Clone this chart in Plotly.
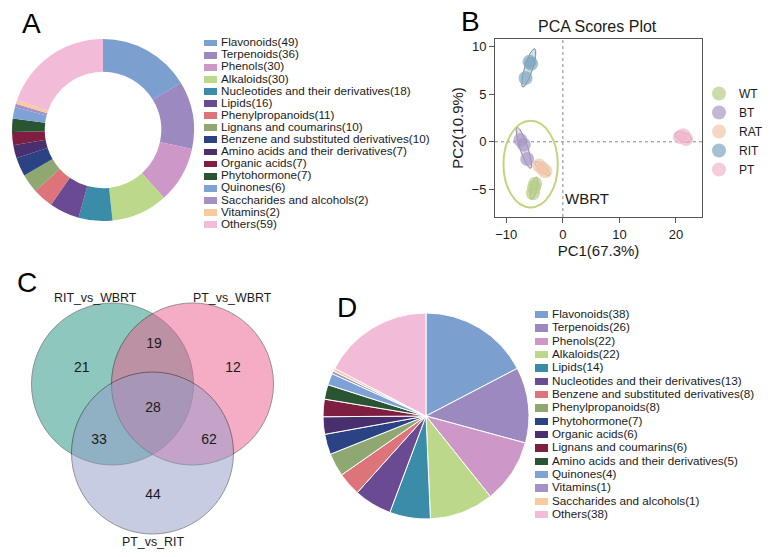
"""
Figura compuesta: clasificacion de metabolitos (A, D), PCA (B) y Venn (C).
"""

import numpy as np
import plotly.graph_objects as go

FUENTE = "Arial, Liberation Sans, sans-serif"
# la pagina deja 8 px de margen en body: la figura ocupa el resto de la ventana
OFF = 8
ANCHO, ALTO = 775 - OFF, 557 - OFF

# =============================================================================
# DATOS
# =============================================================================

clases_a = [
    "Flavonoids", "Terpenoids", "Phenols", "Alkaloids",
    "Nucleotides and their derivatives", "Lipids", "Phenylpropanoids",
    "Lignans and coumarins", "Benzene and substituted derivatives",
    "Amino acids and their derivatives", "Organic acids", "Phytohormone",
    "Quinones", "Saccharides and alcohols", "Vitamins", "Others",
]
conteos_a = [49, 36, 30, 30, 18, 16, 11, 10, 10, 7, 7, 7, 6, 2, 2, 59]

clases_d = [
    "Flavonoids", "Terpenoids", "Phenols", "Alkaloids", "Lipids",
    "Nucleotides and their derivatives", "Benzene and substituted derivatives",
    "Phenylpropanoids", "Phytohormone", "Organic acids",
    "Lignans and coumarins", "Amino acids and their derivatives",
    "Quinones", "Vitamins", "Saccharides and alcohols", "Others",
]
conteos_d = [38, 26, 22, 22, 14, 13, 8, 8, 7, 6, 6, 5, 4, 1, 1, 38]

grupos_pca = ["WT", "BT", "RAT", "RIT", "PT"]
pc1_wt = [-4.9, -5.3, -5.1]
pc2_wt = [-4.4, -5.4, -4.8]
pc1_bt = [-7.5, -6.9, -6.3]
pc2_bt = [0.2, -0.3, -1.8]
pc1_rat = [-4.2, -3.6, -3.1]
pc2_rat = [-2.5, -2.8, -3.1]
pc1_rit = [-5.9, -5.6, -6.6]
pc2_rit = [8.4, 8.2, 6.7]
pc1_pt = [20.7, 21.3, 21.8]
pc2_pt = [0.5, 0.7, 0.3]
ticks_pc1 = [-10, 0, 10, 20]
ticks_pc2 = [-5, 0, 5, 10]

conjuntos_venn = ["RIT_vs_WBRT", "PT_vs_WBRT", "PT_vs_RIT"]
conteos_venn = [21, 12, 44, 19, 33, 62, 28]  # solo1, solo2, solo3, 1&2, 1&3, 2&3, todos

# =============================================================================
# ESTILO
# =============================================================================

PALETA = [
    "#7b9fcf", "#9b89c0", "#cd97c8", "#bcd88a", "#3a8ca8", "#6a4a93",
    "#dc7479", "#8fa872", "#2b4284", "#4a2f6e", "#7e1e40", "#2a5533",
    "#7fa2d6", "#a590c8", "#f8caa0", "#f2bcd8",
]
COLORES_PCA = {"WT": "#b7cd86", "BT": "#a898c4", "RAT": "#f2c6a8",
               "RIT": "#7fa6c0", "PT": "#f0b6cd"}
COLORES_VENN = ["rgb(31,145,125)", "rgb(235,93,141)", "rgb(147,155,201)"]

# geometria del Venn en pixeles de pantalla del panel C
CENTROS_VENN = [(112.5, 384), (192.5, 384), (152.5, 453)]
RADIO_VENN = 81
POS_ETIQ_VENN = [(81.7, 368), (233, 368), (153, 495), (154, 344),
                 (99, 440), (209, 440), (153, 408)]
POS_NOMBRE_VENN = [(95, 298), (232, 298), (153, 542)]


def px_x(p):
    return (p - OFF) / ANCHO


def px_y(p):
    return 1 - (p - OFF) / ALTO


def elipse_grupo(xs, ys, sx, sy, pad=3.0, n=80):
    """Elipse estrecha alrededor de los puntos de un grupo (en espacio de pixeles)."""
    px = np.asarray(xs) * sx
    py = np.asarray(ys) * sy
    cx, cy = px.mean(), py.mean()
    pts = np.column_stack([px - cx, py - cy])
    _, _, vt = np.linalg.svd(pts)
    u, v = vt[0], vt[1]
    a = np.abs(pts @ u).max() * 1.6 + pad
    b = np.abs(pts @ v).max() + pad
    t = np.linspace(0, 2 * np.pi, n)
    ex = cx + a * np.cos(t) * u[0] + b * np.sin(t) * v[0]
    ey = cy + a * np.cos(t) * u[1] + b * np.sin(t) * v[1]
    return ex / sx, ey / sy


def hex_rgba(h, a):
    h = h.lstrip("#")
    r, g, b = int(h[0:2], 16), int(h[2:4], 16), int(h[4:6], 16)
    return f"rgba({r},{g},{b},{a})"


fig = go.Figure()

# =============================================================================
# A - DONA
# =============================================================================

fig.add_trace(go.Pie(
    labels=[f"{c}({n})" for c, n in zip(clases_a, conteos_a)],
    values=conteos_a,
    hole=0.64, sort=False, direction="clockwise", rotation=0,
    marker=dict(colors=PALETA, line=dict(width=0)),
    textinfo="none", showlegend=False,
    domain=dict(x=[px_x(12), px_x(194)], y=[px_y(221), px_y(39)]),
))

# =============================================================================
# D - PIE
# =============================================================================

fig.add_trace(go.Pie(
    labels=[f"{c} ({n})" for c, n in zip(clases_d, conteos_d)],
    values=conteos_d,
    sort=False, direction="clockwise", rotation=0,
    marker=dict(colors=PALETA, line=dict(width=1, color="white")),
    textinfo="none", showlegend=False,
    domain=dict(x=[px_x(323), px_x(529)], y=[px_y(519), px_y(313)]),
))


# Leyendas manuales (las de plotly tienen un alto minimo de 19 px por item)
def leyenda_manual(etiquetas, conteos, ejex, ejey, x0, x1, y_primero, paso):
    n = len(etiquetas)
    idx = list(range(n))
    fig.add_trace(go.Bar(
        x=[13] * n, y=idx, base=0, orientation="h", width=0.56,
        marker=dict(color=PALETA, line=dict(width=0)),
        xaxis=ejex, yaxis=ejey, showlegend=False, hoverinfo="skip",
    ))
    fig.add_trace(go.Scatter(
        x=[17] * n, y=idx, mode="text",
        text=[f"{e}({c})" for e, c in zip(etiquetas, conteos)],
        textposition="middle right",
        textfont=dict(size=11.7, color="#1a1a1a", family=FUENTE),
        xaxis=ejex, yaxis=ejey, showlegend=False, hoverinfo="skip",
        cliponaxis=False,
    ))
    nombre_x = "xaxis" + ejex[1:]
    nombre_y = "yaxis" + ejey[1:]
    fig.update_layout(**{
        nombre_x: dict(domain=[px_x(x0), px_x(x1)], range=[0, x1 - x0],
                       visible=False, anchor=ejey),
        nombre_y: dict(domain=[px_y(y_primero + paso * (n - 0.5)),
                               px_y(y_primero - paso * 0.5)],
                       range=[n - 0.5, -0.5], visible=False, anchor=ejex),
    })


leyenda_manual(clases_a, conteos_a, "x", "y", 204, 460, 43.3, 12.1)
leyenda_manual(clases_d, conteos_d, "x4", "y4", 535, 770, 315, 13.33)

# =============================================================================
# B - PCA
# =============================================================================

datos_pca = {
    "WT": (pc1_wt, pc2_wt), "BT": (pc1_bt, pc2_bt), "RAT": (pc1_rat, pc2_rat),
    "RIT": (pc1_rit, pc2_rit), "PT": (pc1_pt, pc2_pt),
}
SX, SY = 5.67, 9.5  # pixeles por unidad en cada eje

for g in grupos_pca:
    xs, ys = datos_pca[g]
    ex, ey = elipse_grupo(xs, ys, SX, SY)
    fig.add_trace(go.Scatter(
        x=ex, y=ey, mode="lines", fill="toself",
        fillcolor=hex_rgba(COLORES_PCA[g], 0.35),
        line=dict(color="rgba(70,70,70,0.75)", width=0.8),
        xaxis="x2", yaxis="y2", showlegend=False, hoverinfo="skip",
    ))
    fig.add_trace(go.Scatter(
        x=xs, y=ys, mode="markers", name=g,
        marker=dict(size=14, color=COLORES_PCA[g], opacity=0.7,
                    line=dict(width=0)),
        xaxis="x2", yaxis="y2",
    ))

ejes_pca = dict(
    showline=True, mirror=True, linecolor="#555", linewidth=1,
    ticks="outside", ticklen=5, tickcolor="#555",
    showgrid=False, zeroline=False,
    tickfont=dict(size=13, color="#1a1a1a"),
)
fig.update_layout(
    xaxis2=dict(domain=[px_x(495), px_x(702)], range=[-12, 24.6],
                tickvals=ticks_pc1, anchor="y2",
                title=dict(text="PC1(67.3%)", font=dict(size=15), standoff=4),
                **ejes_pca),
    yaxis2=dict(domain=[px_y(217), px_y(39)], range=[-7.9, 10.8],
                tickvals=ticks_pc2, anchor="x2",
                title=dict(text="PC2(10.9%)", font=dict(size=15), standoff=4),
                **ejes_pca),
)

fig.add_shape(type="line", xref="x2", yref="y2 domain", x0=0, x1=0, y0=0, y1=1,
              line=dict(color="#888", width=1, dash="dot"), layer="below")
fig.add_shape(type="line", xref="x2 domain", yref="y2", x0=0, x1=1, y0=0, y1=0,
              line=dict(color="#888", width=1, dash="dot"), layer="below")
fig.add_shape(type="circle", xref="x2", yref="y2", x0=-10.5, x1=-0.9,
              y0=-6.9, y1=2.2, line=dict(color="#c3d37f", width=2))
fig.add_annotation(x=0.05, y=-6.0, xref="x2", yref="y2", text="WBRT",
                   showarrow=False, xanchor="left", yanchor="middle",
                   font=dict(size=15, color="#1a1a1a"))
fig.add_annotation(x=px_x(597), y=px_y(26), xref="paper", yref="paper",
                   text="PCA Scores Plot", showarrow=False,
                   xanchor="center", yanchor="middle",
                   font=dict(size=16, color="#1a1a1a"))

# =============================================================================
# C - VENN
# =============================================================================

for (cx, cy), col in zip(CENTROS_VENN, COLORES_VENN):
    fig.add_shape(type="circle", xref="x3", yref="y3",
                  x0=cx - RADIO_VENN, x1=cx + RADIO_VENN,
                  y0=cy - RADIO_VENN, y1=cy + RADIO_VENN,
                  fillcolor=col, opacity=0.5, layer="below",
                  line=dict(color="black", width=0.8))

fig.add_trace(go.Scatter(
    x=[p[0] for p in POS_ETIQ_VENN], y=[p[1] for p in POS_ETIQ_VENN],
    mode="text", text=[str(n) for n in conteos_venn],
    textfont=dict(size=14, color="#1a1a1a"),
    xaxis="x3", yaxis="y3", showlegend=False, hoverinfo="skip",
))
for nombre, (x, y) in zip(conjuntos_venn, POS_NOMBRE_VENN):
    fig.add_annotation(x=x, y=y, xref="x3", yref="y3", text=nombre,
                       showarrow=False, xanchor="center", yanchor="middle",
                       font=dict(size=12.4, color="#1a1a1a"))

fig.update_layout(
    xaxis3=dict(domain=[0, px_x(330)], range=[OFF, 330], visible=False, anchor="y3"),
    yaxis3=dict(domain=[0, px_y(260)], range=[557, 260], visible=False, anchor="x3"),
)

# =============================================================================
# LETRAS DE PANEL Y LAYOUT
# =============================================================================

for letra, (x, y) in zip("ABCD", [(31, 23), (470, 22), (27, 282), (347, 307)]):
    fig.add_annotation(x=px_x(x), y=px_y(y), xref="paper", yref="paper",
                       text=letra, showarrow=False,
                       xanchor="center", yanchor="middle",
                       font=dict(size=28, color="black"))

fig.update_layout(
    width=ANCHO, height=ALTO,
    margin=dict(l=0, r=0, t=0, b=0),
    paper_bgcolor="white", plot_bgcolor="white",
    font=dict(family=FUENTE, color="#1a1a1a"),
    bargap=0,
    legend=dict(x=px_x(699), y=px_y(79), xanchor="left", yanchor="top",
                font=dict(size=12), bgcolor="rgba(0,0,0,0)",
                tracegroupgap=0),
)

fig.write_html("out.html")
